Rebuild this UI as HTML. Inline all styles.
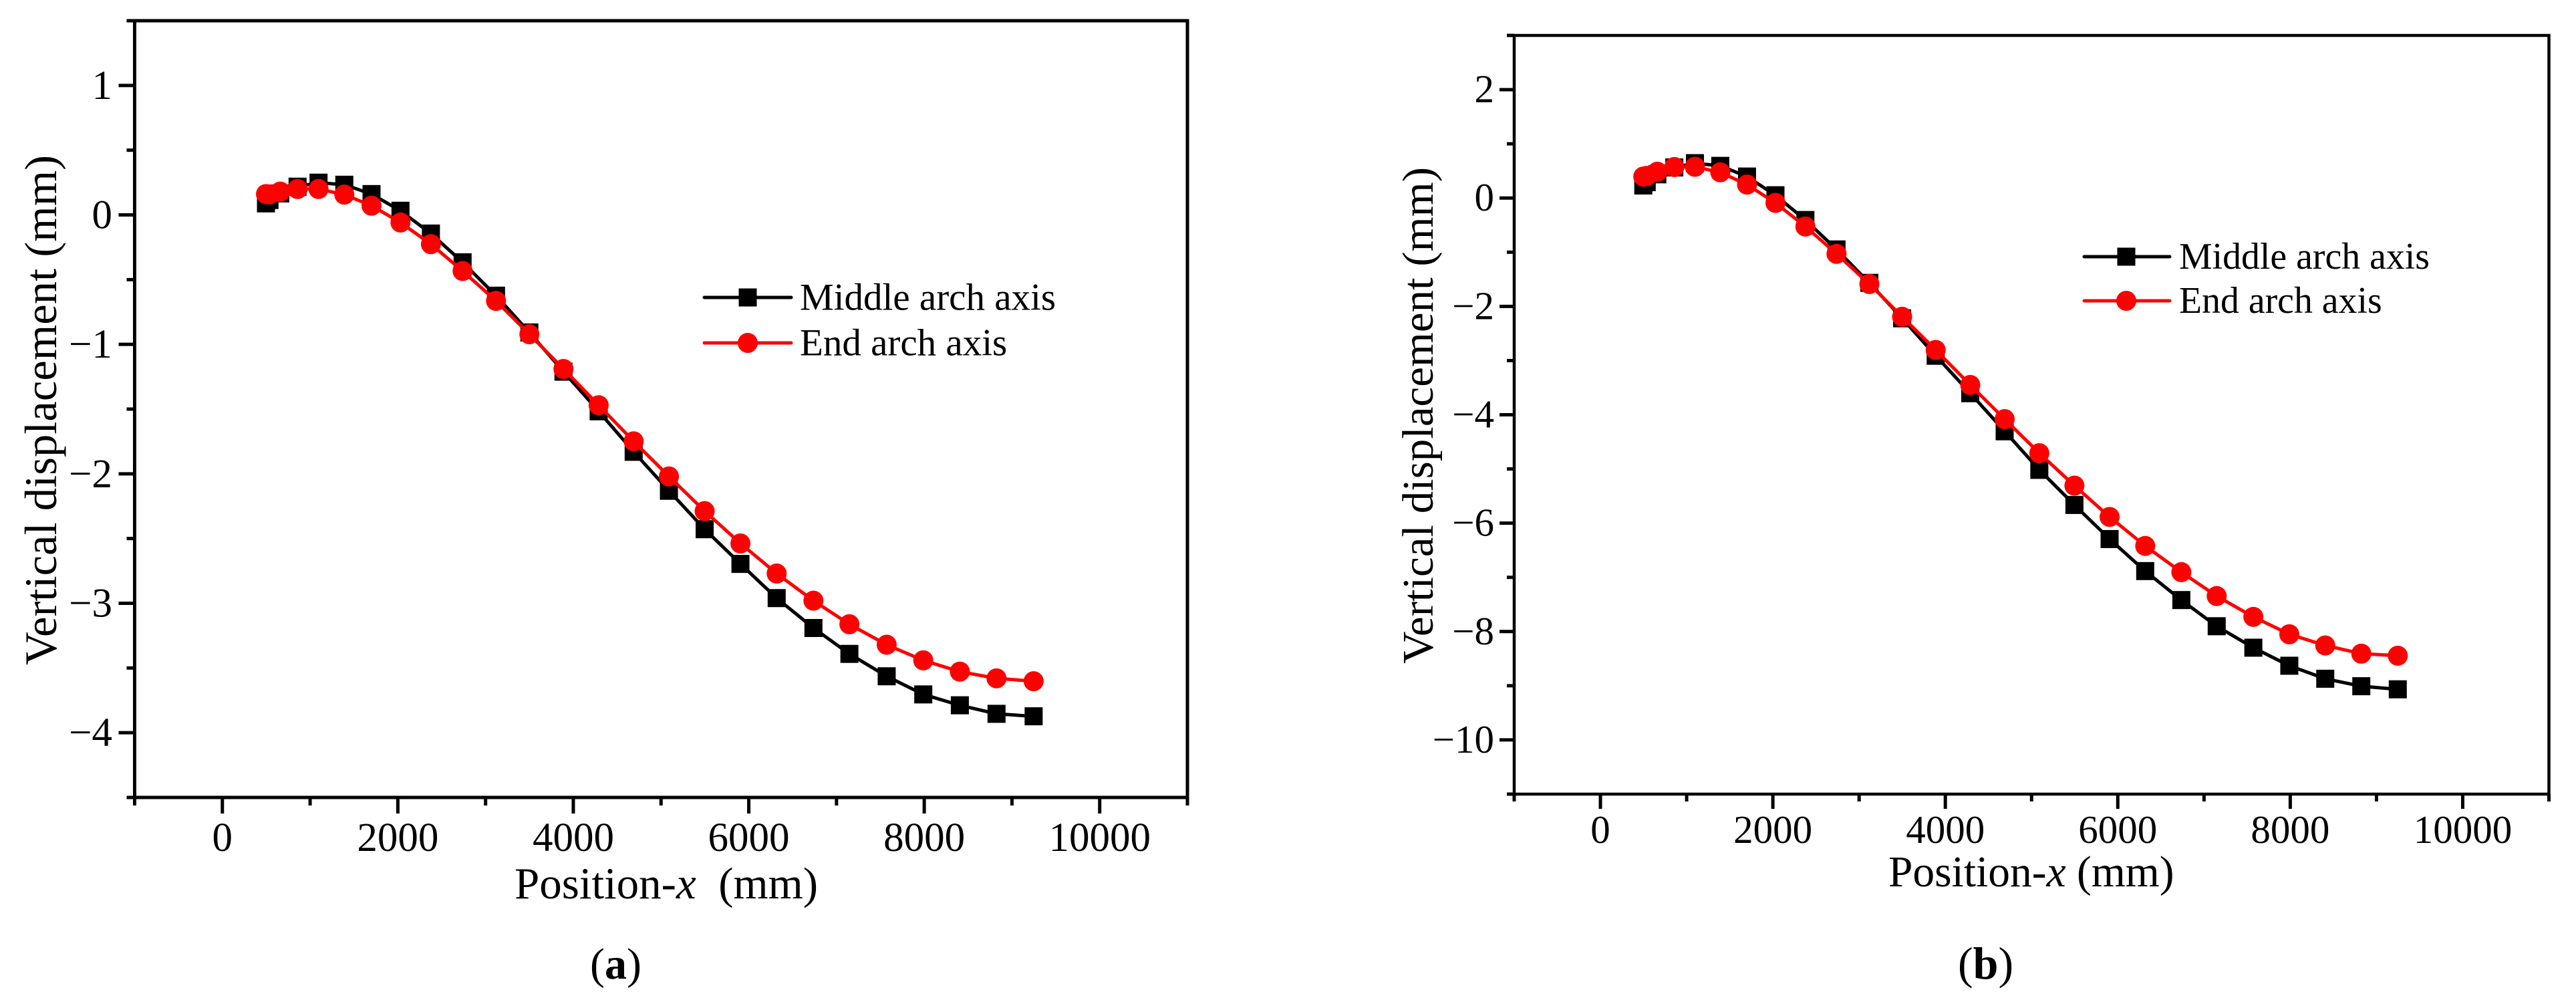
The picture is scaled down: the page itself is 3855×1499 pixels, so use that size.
<!DOCTYPE html>
<html lang="en">
<head>
<meta charset="utf-8">
<title>Vertical displacement along arch axis</title>
<style>
  html, body { margin: 0; padding: 0; background: #fff; }
  svg { display: block; }
  text { font-family: "Liberation Serif", "Times New Roman", serif; fill: #000; }
</style>
</head>
<body>
<svg id="figure" xmlns="http://www.w3.org/2000/svg" width="3855" height="1499" viewBox="0 0 3855 1499">
  <rect x="0" y="0" width="3855" height="1499" fill="#fff"/>

  <g id="panel-a"></g>
  <g id="panel-b"></g>

  <text transform="translate(84 995) rotate(-90)" font-size="67.5" textLength="763" lengthAdjust="spacingAndGlyphs">Vertical displacement (mm)</text>
  <text x="770" y="1344" font-size="67" xml:space="preserve">Position-<tspan font-style="italic">x</tspan>  (mm)</text>
  <text x="883" y="1464" font-size="66">(<tspan font-weight="bold">a</tspan>)</text>

  <g>
    <g>
      <line x1="1054" y1="445" x2="1184" y2="445" stroke="#000" stroke-width="5" stroke-linecap="round"/>
      <rect x="1105.5" y="431.500" width="27" height="27" fill="#000"/>
      <text x="1197" y="463.500" font-size="57">Middle arch axis</text>
    </g>
    <g>
      <line x1="1054" y1="513" x2="1184" y2="513" stroke="#f00" stroke-width="5" stroke-linecap="round"/>
      <circle cx="1119" cy="513" r="15" fill="#f00"/>
      <text x="1197" y="531.500" font-size="57">End arch axis</text>
    </g>
  </g>

  <text transform="translate(2144 993) rotate(-90)" font-size="66" textLength="743" lengthAdjust="spacingAndGlyphs">Vertical displacement (mm)</text>
  <text x="2826" y="1326" font-size="65.500">Position-<tspan font-style="italic">x</tspan> (mm)</text>
  <text x="2930" y="1464" font-size="68">(<tspan font-weight="bold">b</tspan>)</text>

  <g>
    <g>
      <line x1="3119" y1="384" x2="3247" y2="384" stroke="#000" stroke-width="5" stroke-linecap="round"/>
      <rect x="3168.5" y="370.500" width="27" height="27" fill="#000"/>
      <text x="3261" y="402" font-size="55.800">Middle arch axis</text>
    </g>
    <g>
      <line x1="3119" y1="450" x2="3247" y2="450" stroke="#f00" stroke-width="5" stroke-linecap="round"/>
      <circle cx="3182" cy="450" r="15" fill="#f00"/>
      <text x="3261" y="468" font-size="55.800">End arch axis</text>
    </g>
  </g>
</svg>

<script>
// ---- chart data ----
const positionX = [497, 537, 660, 857, 1096, 1390, 1700, 2030, 2377, 2738, 3119, 3499, 3888, 4289, 4688, 5090, 5497, 5905, 6318, 6737, 7147, 7572, 7989, 8406, 8824, 9247];
const middleArchA = [0.089, 0.115, 0.166, 0.218, 0.249, 0.233, 0.161, 0.032, -0.144, -0.366, -0.624, -0.908, -1.211, -1.517, -1.830, -2.131, -2.428, -2.696, -2.960, -3.191, -3.391, -3.564, -3.704, -3.788, -3.854, -3.873];
const endArchA = [0.161, 0.159, 0.180, 0.200, 0.200, 0.157, 0.071, -0.059, -0.226, -0.433, -0.664, -0.922, -1.190, -1.470, -1.749, -2.020, -2.288, -2.538, -2.770, -2.980, -3.162, -3.320, -3.441, -3.528, -3.580, -3.602];
const middleArchB = [0.231, 0.292, 0.437, 0.564, 0.643, 0.593, 0.396, 0.051, -0.406, -0.949, -1.566, -2.220, -2.911, -3.602, -4.305, -5.017, -5.664, -6.293, -6.884, -7.419, -7.902, -8.298, -8.631, -8.871, -9.009, -9.066];
const endArchB = [0.396, 0.408, 0.486, 0.572, 0.576, 0.474, 0.248, -0.090, -0.526, -1.031, -1.587, -2.191, -2.804, -3.450, -4.080, -4.709, -5.307, -5.885, -6.420, -6.904, -7.345, -7.729, -8.050, -8.257, -8.408, -8.446];

const xMajorTicks = [0, 2000, 4000, 6000, 8000, 10000];
const xMinorTicks = [-1000, 1000, 3000, 5000, 7000, 9000, 11000];
const yMajorTicksA = [1, 0, -1, -2, -3, -4];
const yMinorTicksA = [1.5, 0.5, -0.5, -1.5, -2.5, -3.5, -4.5];
const yMajorTicksB = [2, 0, -2, -4, -6, -8, -10];
const yMinorTicksB = [3, 1, -1, -3, -5, -7, -9, -11];

// ---- drawing ----
const SVG_NS = 'http://www.w3.org/2000/svg';

function make(parent, tag, attrs) {
  const el = document.createElementNS(SVG_NS, tag);
  for (const key in attrs) el.setAttribute(key, attrs[key]);
  parent.appendChild(el);
  return el;
}

function fmt(v) {
  return String(v).replace('-', '\u2212');
}

function drawSeries(root, xs, ys, xScale, yScale, kind, color, seriesName) {
  const group = make(root, 'g', {});
  
  

  const points = xs.map((x, i) => xScale(x).toFixed(1) + ',' + yScale(ys[i]).toFixed(1)).join(' ');
  const line = make(group, 'polyline', { points: points, fill: 'none', stroke: color, 'stroke-width': 5, 'stroke-linejoin': 'miter' });
  
  

  xs.forEach((x, i) => {
    const px = xScale(x);
    const py = yScale(ys[i]);
    let mark;
    if (kind === 'square') {
      mark = make(group, 'rect', { x: px - 13.5, y: py - 13.5, width: 27, height: 27, fill: color });
    } else {
      mark = make(group, 'circle', { cx: px, cy: py, r: 15, fill: color });
    }
    
    
  });
}

function drawPanel(root, o) {
  const xScale = v => o.left + (v - o.xMin) / (o.xMax - o.xMin) * (o.right - o.left);
  const yScale = v => o.top + (o.yMax - v) / (o.yMax - o.yMin) * (o.bottom - o.top);

  const xAxis = make(root, 'g', {});
  
  
  const yAxis = make(root, 'g', {});
  
  

  const frame = make(root, 'rect', { x: o.left, y: o.top, width: o.right - o.left, height: o.bottom - o.top, fill: 'none', stroke: '#000', 'stroke-width': o.frameWidth });
  
  

  o.xMajor.forEach(v => {
    const tick = make(xAxis, 'line', { x1: xScale(v), x2: xScale(v), y1: o.bottom, y2: o.bottom + o.majorLen, stroke: '#000', 'stroke-width': 5 });
    
    
    const label = make(xAxis, 'text', { x: xScale(v), y: o.xLabelY, 'font-size': o.tickFont, 'text-anchor': 'middle' });
    label.textContent = fmt(v);
    
    
  });
  o.xMinor.forEach(v => {
    const tick = make(xAxis, 'line', { x1: xScale(v), x2: xScale(v), y1: o.bottom, y2: o.bottom + o.minorLen, stroke: '#000', 'stroke-width': 5 });
    
    
  });
  o.yMajor.forEach(v => {
    const tick = make(yAxis, 'line', { x1: o.left, x2: o.left - o.majorLen, y1: yScale(v), y2: yScale(v), stroke: '#000', 'stroke-width': 5 });
    
    
    const label = make(yAxis, 'text', { x: o.yLabelX, y: yScale(v) + o.yLabelDy, 'font-size': o.tickFont, 'text-anchor': 'end' });
    label.textContent = fmt(v);
    
    
  });
  o.yMinor.forEach(v => {
    const tick = make(yAxis, 'line', { x1: o.left, x2: o.left - o.minorLen, y1: yScale(v), y2: yScale(v), stroke: '#000', 'stroke-width': 5 });
    
    
  });

  drawSeries(root, o.xs, o.middle, xScale, yScale, 'square', '#000', 'middle-arch-axis-series');
  drawSeries(root, o.xs, o.end, xScale, yScale, 'circle', '#f00', 'end-arch-axis-series');
}

drawPanel(document.getElementById('panel-a'), {
  left: 201.5, right: 1777, top: 31, bottom: 1193,
  xMin: -1000, xMax: 11000, yMin: -4.5, yMax: 1.5,
  xs: positionX, middle: middleArchA, end: endArchA,
  xMajor: xMajorTicks, xMinor: xMinorTicks, yMajor: yMajorTicksA, yMinor: yMinorTicksA,
  frameWidth: 5, majorLen: 24, minorLen: 12, tickFont: 61,
  xLabelY: 1273, yLabelX: 168, yLabelDy: 20
});

drawPanel(document.getElementById('panel-b'), {
  left: 2266, right: 3814.5, top: 53, bottom: 1188,
  xMin: -1000, xMax: 11000, yMin: -11, yMax: 3,
  xs: positionX, middle: middleArchB, end: endArchB,
  xMajor: xMajorTicks, xMinor: xMinorTicks, yMajor: yMajorTicksB, yMinor: yMinorTicksB,
  frameWidth: 4.5, majorLen: 22, minorLen: 11, tickFont: 59,
  xLabelY: 1261, yLabelX: 2236, yLabelDy: 19
});
</script>
</body>
</html>
